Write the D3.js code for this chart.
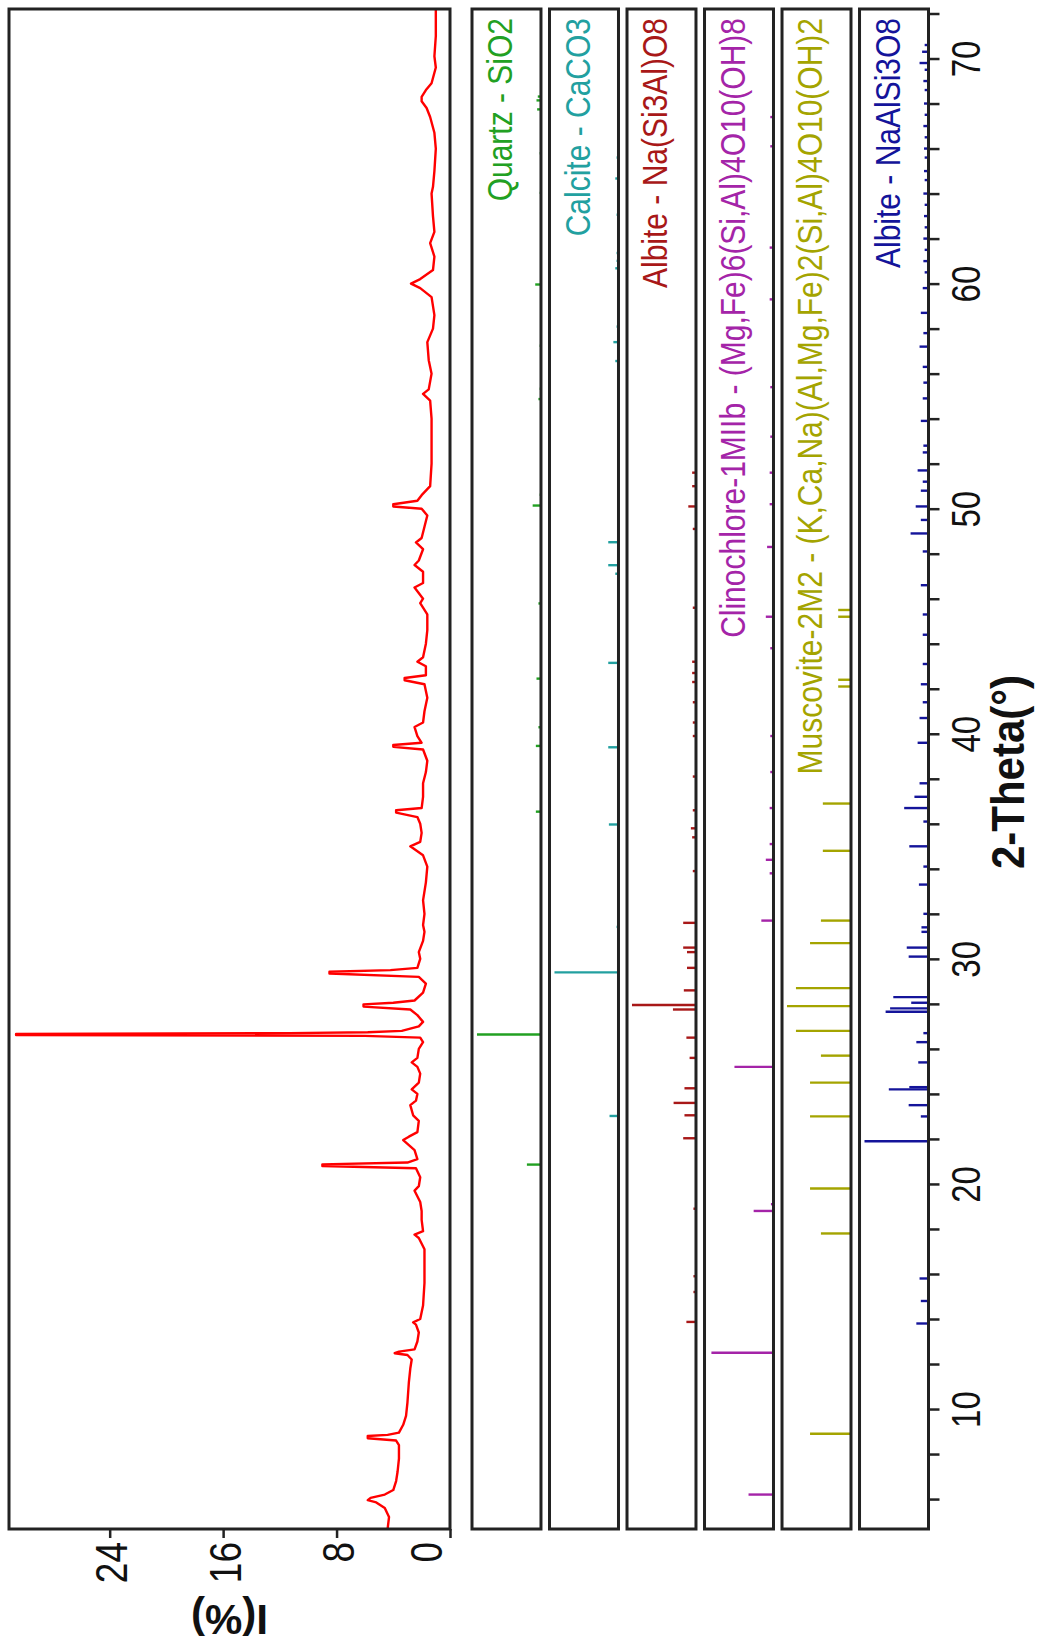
<!DOCTYPE html>
<html>
<head>
<meta charset="utf-8">
<script src="https://cdn.jsdelivr.net/npm/d3@7"></script>
<style>
  body { margin: 0; background: #fff; }
  svg text { font-family: "Liberation Sans", Arial, sans-serif; }
</style>
</head>
<body>
<div id="chart"></div>
<script>
// measured pattern: [2-theta, intensity %]
var pattern = [
  [4.67,4.4],[5.2,4.3],[5.6,4.6],[5.85,5.2],[5.95,5.8],[6.05,5.6],[6.2,4.6],[6.4,4.0],[6.8,3.8],[7.2,3.7],
  [7.8,3.6],[8.4,3.6],[8.6,3.8],[8.7,5.8],[8.8,5.8],[8.85,4.4],[8.95,3.6],[9.3,3.3],[9.7,3.1],[10.3,3.0],
  [11.2,2.9],[11.8,2.8],[12.2,2.7],[12.4,3.0],[12.48,3.9],[12.55,3.6],[12.65,2.5],[13.0,2.3],[13.4,2.2],
  [13.75,2.4],[13.85,2.6],[14.0,2.1],[14.6,1.9],[15.6,1.8],[16.5,1.8],[17.1,1.8],[17.6,2.2],[17.75,2.5],
  [17.9,1.9],[18.4,2.0],[18.8,2.0],[19.2,2.1],[19.7,2.5],[19.9,2.2],[20.3,2.1],[20.7,2.4],[20.8,9.0],
  [20.87,9.0],[20.95,3.0],[21.1,2.3],[21.5,2.5],[21.95,3.3],[22.1,2.9],[22.3,2.3],[22.8,2.2],[23.05,2.6],
  [23.5,2.8],[23.7,2.4],[24.0,2.3],[24.2,2.7],[24.5,2.2],[24.9,2.1],[25.2,2.3],[25.4,2.7],[25.6,2.3],
  [26.0,2.2],[26.3,1.9],[26.5,2.1],[26.58,6.0],[26.62,30.6],[26.66,30.6],[26.7,11.3],[26.74,5.8],[26.8,3.4],
  [27.0,2.2],[27.2,1.9],[27.5,2.3],[27.75,2.8],[27.88,6.1],[27.98,6.1],[28.05,4.0],[28.15,2.5],[28.5,1.9],
  [28.9,1.7],[29.2,2.2],[29.35,8.5],[29.43,8.5],[29.5,4.2],[29.6,2.3],[30.0,2.1],[30.3,2.2],[30.8,1.9],
  [31.2,1.8],[31.5,1.9],[32.0,1.8],[32.6,1.9],[33.4,1.7],[34.1,1.6],[34.6,1.9],[35.0,2.8],[35.2,2.1],
  [35.6,2.0],[36.0,2.1],[36.3,2.3],[36.5,3.8],[36.6,3.8],[36.7,2.0],[37.2,1.9],[37.8,1.9],[38.3,1.7],
  [38.8,1.6],[39.3,1.9],[39.42,4.0],[39.5,4.0],[39.6,2.0],[39.9,2.3],[40.3,2.5],[40.5,1.9],[41.0,1.8],
  [41.6,1.6],[42.2,1.8],[42.38,3.2],[42.48,3.2],[42.6,1.7],[43.0,1.7],[43.2,2.3],[43.4,1.9],[44.0,1.7],
  [44.6,1.6],[45.3,1.6],[45.8,2.1],[46.0,1.9],[46.5,2.5],[46.7,1.9],[47.2,1.9],[47.5,2.5],[47.7,2.2],
  [48.2,1.9],[48.5,2.4],[48.7,2.0],[49.2,1.8],[49.7,1.6],[50.0,2.0],[50.1,4.0],[50.2,4.0],[50.35,2.3],
  [50.6,2.0],[51.0,1.4],[52.0,1.3],[53.0,1.3],[54.0,1.3],[54.8,1.4],[55.1,1.9],[55.3,1.5],[56.0,1.3],
  [56.6,1.5],[57.4,1.6],[58.0,1.2],[58.6,1.1],[59.4,1.3],[59.8,2.1],[60.0,2.75],[60.2,2.1],[60.6,1.2],
  [61.2,1.1],[61.8,1.4],[62.3,1.1],[63.0,1.2],[64.0,1.3],[64.3,1.2],[65.0,1.1],[66.0,1.0],[66.7,1.1],
  [67.4,1.4],[67.8,1.65],[68.1,2.0],[68.3,2.0],[68.6,1.7],[68.9,1.3],[69.6,1.0],[70.1,1.1],[71.0,1.0],[72.2,1.0]
];

// reference sticks: [2-theta, relative intensity]
var quartzPeaks = [[20.86,22],[26.64,100],[36.54,8],[39.46,8],[40.29,4],[42.45,7],[45.79,4],[50.14,13],
  [50.62,2],[54.87,4],[55.33,2],[57.24,2],[59.96,9],[64.03,2],[65.79,2],[67.74,6],[68.14,7],[68.31,5]];
var calcitePeaks = [[23.02,14],[29.40,100],[31.42,3],[35.97,15],[39.40,16],[43.15,16],[47.11,5],[47.49,16],
  [48.51,16],[56.56,5],[57.40,8],[58.09,3],[60.68,5],[61.01,3],[61.36,3],[63.06,3],[64.67,5],[65.60,3],[69.20,2],[70.24,2]];
var albitePeaks = [[13.87,15],[15.2,4],[15.9,4],[18.9,4],[22.03,20],[23.05,18],[23.6,35],[24.25,18],[25.6,10],
  [26.5,15],[27.75,36],[27.95,100],[28.6,19],[29.6,14],[30.3,14],[30.5,20],[31.6,20],[33.9,5],[35.4,6],
  [35.8,8],[36.6,5],[38.1,5],[39.9,5],[40.5,5],[41.4,5],[42.3,6],[42.7,6],[43.2,6],[45.6,5],[49.1,5],
  [50.1,12],[51.0,6],[51.6,6]];
var clinochlorePeaks = [[6.2,39],[12.5,97],[18.8,31],[19.1,4],[25.2,61],[31.7,19],[33.8,6],[34.4,12],[35.1,6],
  [36.7,6],[38.3,5],[39.9,5],[43.8,5],[45.2,12],[48.3,10],[50.2,6],[51.6,6],[53.2,5],[55.4,5],[59.3,6],
  [61.6,6],[66.1,5],[67.4,5]];
var muscovitePeaks = [[8.9,64],[17.8,47],[19.8,64],[23.0,64],[24.5,64],[25.7,47],[26.8,86],[27.9,100],
  [28.7,86],[30.7,64],[31.7,47],[34.8,44],[36.9,44],[42.1,20],[42.4,20],[45.2,20],[45.5,20]];
var albite2Peaks = [[13.8,19],[14.8,12],[15.8,14],[21.9,100],[23.0,12],[23.5,31],[24.2,62],[24.3,30],[25.4,16],
  [26.3,19],[26.7,8],[27.65,67],[27.8,60],[28.05,27],[28.3,55],[30.1,31],[30.5,34],[31.2,11],[31.4,11],
  [32.0,8],[33.3,15],[34.1,8],[35.0,30],[36.1,8],[36.7,38],[37.2,22],[37.8,14],[39.6,17],[40.7,14],
  [41.4,9],[42.2,12],[43.1,9],[44.4,9],[45.3,9],[46.6,12],[48.1,9],[48.9,28],[49.5,12],[50.1,20],[50.8,12],
  [51.2,9],[51.7,17],[52.5,9],[52.8,8],[53.9,12],[54.9,9],[55.6,8],[56.3,9],[57.2,14],[57.8,8],[58.7,12],
  [59.8,9],[60.5,6],[61.0,8],[61.5,6],[62.0,8],[62.5,6],[63.0,7],[63.5,6],[64.0,8],[64.6,6],[65.0,7],
  [65.6,6],[66.0,7],[66.5,6],[67.0,8],[67.5,6],[68.0,7],[68.6,6],[69.0,8],[69.5,6],[69.8,14],[70.3,10],[70.6,6]];

var phaseLabels = ["Quartz - SiO2", "Calcite - CaCO3", "Albite - Na(Si3Al)O8",
  "Clinochlore-1MIIb - (Mg,Fe)6(Si,Al)4O10(OH)8",
  "Muscovite-2M2 - (K,Ca,Na)(Al,Mg,Fe)2(Si,Al)4O10(OH)2", "Albite - NaAlSi3O8"];
var phasePeaks = [quartzPeaks, calcitePeaks, albitePeaks, clinochlorePeaks, muscovitePeaks, albite2Peaks];
var phaseColors = ["#22a022", "#22a0a0", "#a81818", "#a424a8", "#a4a400", "#14149a"];

var intensityTicks = [0, 8, 16, 24];

var width = 1054, height = 1642;
var frame = {top: 9, bottom: 1529, left: 9, right: 450};

var svg = d3.select("#chart").append("svg")
    .attr("width", width)
    .attr("height", height);

svg.append("rect").attr("width", width).attr("height", height).attr("fill", "#fff");

// chart is drawn turned a quarter turn: 2-theta runs upward, intensity runs leftward
var y = d3.scaleLinear().domain([4.67, 72.2]).range([frame.bottom, frame.top]);
var x = d3.scaleLinear().domain([0, 31.1]).range([frame.right, frame.left]);

var panel = d3.scaleBand()
    .domain(d3.range(phaseLabels.length))
    .range([472, 928.5])
    .paddingInner(0.11)
    .paddingOuter(0);

var stick = d3.scaleLinear().domain([0, 100]).range([0, 64]);

var line = d3.line()
    .x(function (d) { return x(d[1]); })
    .y(function (d) { return y(d[0]); });

svg.append("path")
    .datum(pattern)
    .attr("d", line)
    .attr("fill", "none")
    .attr("stroke", "#ff0000")
    .attr("stroke-width", 2.4)
    .attr("stroke-linejoin", "round");

svg.append("rect")
    .attr("x", frame.left).attr("y", frame.top)
    .attr("width", frame.right - frame.left).attr("height", frame.bottom - frame.top)
    .attr("fill", "none").attr("stroke", "#222").attr("stroke-width", 3);

// phase panels
var panels = svg.selectAll("g.phase")
    .data(phaseLabels)
    .enter().append("g")
    .attr("class", "phase");

panels.each(function (label, i) {
    var g = d3.select(this),
        left = panel(i),
        right = left + panel.bandwidth();

    g.append("text")
        .attr("transform", "translate(" + (left + 40) + ",18) rotate(-90) scale(1,1.15)")
        .attr("text-anchor", "end")
        .attr("font-size", 30)
        .attr("fill", phaseColors[i])
        .text(label);

    g.selectAll("line")
        .data(phasePeaks[i])
        .enter().append("line")
        .attr("x1", right)
        .attr("x2", function (d) { return right - stick(d[1]); })
        .attr("y1", function (d) { return y(d[0]); })
        .attr("y2", function (d) { return y(d[0]); })
        .attr("stroke", phaseColors[i])
        .attr("stroke-width", 2.4);

    g.append("rect")
        .attr("x", left).attr("y", frame.top)
        .attr("width", panel.bandwidth()).attr("height", frame.bottom - frame.top)
        .attr("fill", "none").attr("stroke", "#222").attr("stroke-width", 3);
});

// 2-theta axis on the right
var thetaAxis = svg.append("g")
    .attr("transform", "translate(" + (panel(5) + panel.bandwidth()) + ",0)")
    .call(d3.axisRight(y)
        .tickValues(d3.range(6, 72.1, 2))
        .tickSize(11)
        .tickSizeOuter(0)
        .tickFormat(function (d) { return d % 10 === 0 ? d : ""; }));

thetaAxis.select(".domain").remove();
thetaAxis.selectAll(".tick line").attr("stroke", "#222").attr("stroke-width", 2.5);
thetaAxis.selectAll(".tick text")
    .attr("x", null).attr("dy", null)
    .attr("text-anchor", "middle")
    .attr("transform", "translate(51,0) rotate(-90) scale(1,1.25)")
    .attr("font-size", 33)
    .attr("font-family", "Liberation Sans, Arial, sans-serif")
    .attr("fill", "#111");

// intensity axis at the bottom of the pattern frame
var intensityAxis = svg.append("g")
    .attr("transform", "translate(0," + frame.bottom + ")")
    .call(d3.axisBottom(x)
        .tickValues(intensityTicks)
        .tickSize(9)
        .tickSizeOuter(0));

intensityAxis.select(".domain").remove();
intensityAxis.selectAll(".tick line").attr("stroke", "#222").attr("stroke-width", 2.5);
intensityAxis.selectAll(".tick text")
    .attr("y", null).attr("dy", null)
    .attr("text-anchor", "end")
    .attr("transform", function (d) {
        var dx = d === 0 ? -9 : 17;
        return "translate(" + dx + ",13) rotate(-90) scale(1,1.22)";
    })
    .attr("font-size", 37)
    .attr("font-family", "Liberation Sans, Arial, sans-serif")
    .attr("fill", "#111");

// axis titles
svg.append("text")
    .attr("transform", "translate(" + ((frame.left + frame.right) / 2) + ",1605) rotate(180)")
    .attr("text-anchor", "middle")
    .attr("font-family", "Liberation Serif, Times New Roman, serif")
    .attr("font-weight", "bold")
    .attr("font-size", 42)
    .attr("fill", "#111")
    .text("I(%)");

svg.append("text")
    .attr("transform", "translate(1024," + y(38.3) + ") rotate(-90) scale(1,1.1)")
    .attr("text-anchor", "middle")
    .attr("font-weight", "bold")
    .attr("font-size", 42)
    .attr("fill", "#111")
    .text("2-Theta(°)");
</script>
</body>
</html>
